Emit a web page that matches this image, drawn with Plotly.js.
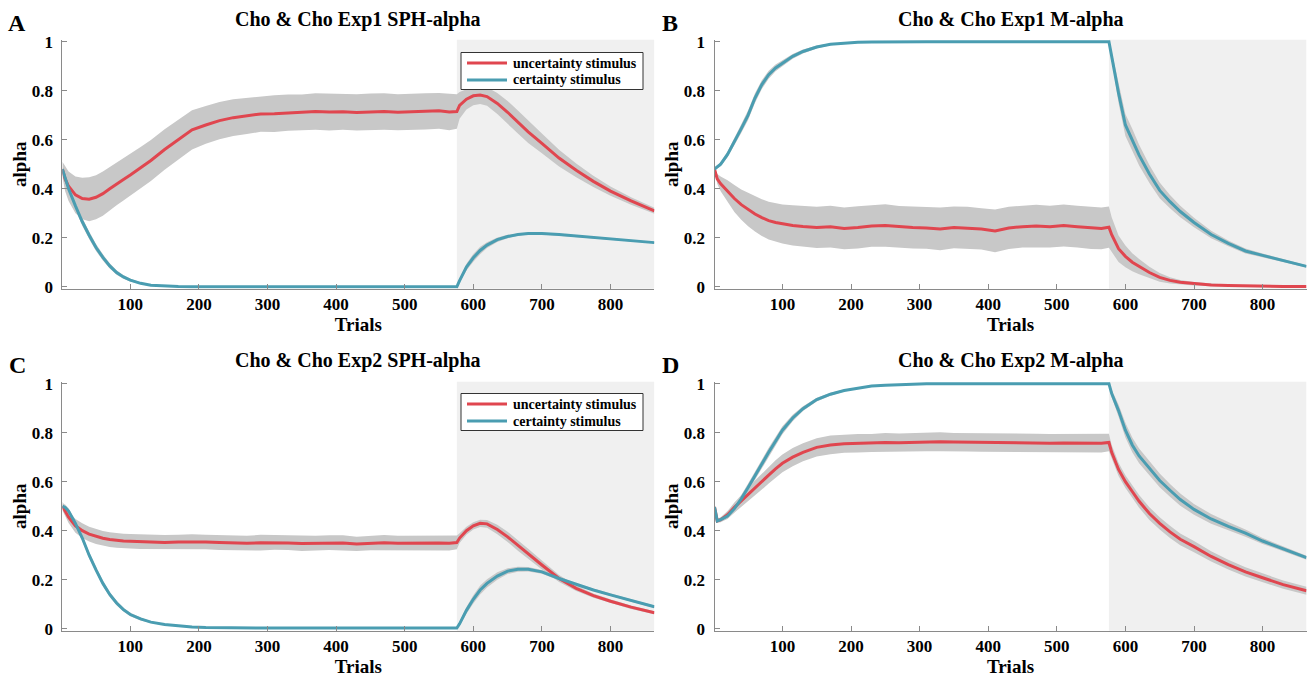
<!DOCTYPE html>
<html>
<head>
<meta charset="utf-8">
<script src="https://cdn.plot.ly/plotly-3.0.1.min.js"></script>
<style>html,body{margin:0;padding:0;background:#fff;}#chart{width:1314px;height:685px;}</style>
</head>
<body>
<div id="chart"></div>
<script>
// ---------------- DATA ----------------
const trials = [1,5,10,20,30,40,50,60,70,80,90,100,115,130,150,170,190,210,230,250,270,290,310,330,350,370,390,410,430,450,470,490,510,530,550,565,576,580,590,600,610,620,635,650,665,680,700,725,750,775,800,830,864];
const phaseStart = 576;
const lastTrial = 864;
const firstTrial = 1;
const xTickVals = [100,200,300,400,500,600,700,800];
const yTickVals = [0,0.2,0.4,0.6,0.8,1];
const seriesNames = ['uncertainty stimulus','certainty stimulus'];
const panelTitles = ['Cho & Cho Exp1 SPH-alpha','Cho & Cho Exp1 M-alpha','Cho & Cho Exp2 SPH-alpha','Cho & Cho Exp2 M-alpha'];
const panelLetters = ['A','B','C','D'];

// Panel A
const redA = [0.48,0.44,0.41,0.375,0.36,0.357,0.365,0.38,0.40,0.42,0.438,0.456,
  0.485,0.515,0.56,0.60,0.64,
  0.66,0.678,0.69,0.697,0.705,0.706,0.71,0.712,0.715,0.713,0.714,0.711,0.713,0.715,0.712,0.714,0.716,0.718,
  0.713,0.715,
  0.74,0.765,0.779,0.782,0.776,0.748,0.712,0.672,0.632,0.585,0.525,0.475,0.43,0.39,0.35,0.31];
const redAErr = [0.03,0.05,0.06,0.075,0.085,0.09,0.09,0.09,0.088,0.087,0.086,0.085,
  0.085,0.084,0.083,0.081,0.08,
  0.077,0.076,0.075,0.074,0.073,0.075,0.074,0.072,0.074,0.075,0.073,0.074,0.075,0.074,0.073,0.075,0.074,0.073,
  0.074,0.07,
  0.055,0.042,0.038,0.036,0.038,0.043,0.046,0.047,0.045,0.04,0.034,0.028,0.023,0.019,0.015,0.012];
const tealA = [0.48,0.44,0.40,0.33,0.265,0.21,0.16,0.12,0.085,0.058,0.04,0.027,
  0.014,0.006,0.002,0.001,0,
  0,0,0,0,0,0,0,0,0,0,0,0,0,0,0,0,0,0,
  0,0,
  0.025,0.08,0.118,0.148,0.17,0.192,0.205,0.213,0.217,0.217,0.213,0.207,0.201,0.195,0.188,0.18];
const tealAErr = [0.008,0.012,0.014,0.016,0.016,0.015,0.014,0.013,0.011,0.009,0.007,0.006,
  0.004,0.003,0.002,0.001,0.001,
  0,0,0,0,0,0,0,0,0,0,0,0,0,0,0,0,0,0,
  0,0,
  0.008,0.014,0.016,0.015,0.012,0.009,0.007,0.005,0.004,0.004,0.004,0.003,0.003,0.003,0.003,0.003];

// Panel B
const redB = [0.48,0.44,0.42,0.39,0.36,0.335,0.315,0.297,0.282,0.27,0.262,0.256,
  0.25,0.246,0.242,0.245,0.238,
  0.242,0.248,0.25,0.245,0.242,0.24,0.236,0.242,0.24,0.236,0.228,0.24,0.245,0.248,0.245,0.25,0.245,0.24,
  0.238,0.243,
  0.212,0.155,0.124,0.1,0.082,0.058,0.038,0.026,0.018,0.012,0.007,0.005,0.003,0.002,0.001,0.001];
const redBErr = [0.01,0.02,0.03,0.045,0.055,0.062,0.068,0.072,0.075,0.077,0.079,0.08,
  0.082,0.083,0.084,0.085,0.085,
  0.086,0.085,0.087,0.084,0.086,0.085,0.087,0.085,0.086,0.084,0.087,0.086,0.085,0.087,0.085,0.086,0.085,0.086,
  0.085,0.084,
  0.072,0.054,0.044,0.037,0.031,0.024,0.018,0.013,0.01,0.007,0.005,0.003,0.002,0.002,0.001,0.001];
const tealB = [0.48,0.49,0.50,0.54,0.59,0.645,0.70,0.77,0.825,0.865,0.893,0.913,
  0.94,0.96,0.978,0.989,0.995,
  0.998,0.999,1,1,1,1,1,1,1,1,1,1,1,1,1,1,1,1,
  1,1,
  0.94,0.79,0.66,0.60,0.537,0.46,0.393,0.347,0.307,0.262,0.213,0.177,0.146,0.128,0.107,0.083];
const tealBErr = [0.004,0.006,0.008,0.012,0.015,0.018,0.02,0.02,0.018,0.016,0.014,0.012,
  0.01,0.008,0.006,0.004,0.003,
  0.002,0.001,0,0,0,0,0,0,0,0,0,0,0,0,0,0,0,0,
  0,0,
  0.02,0.04,0.045,0.045,0.042,0.037,0.032,0.027,0.023,0.019,0.015,0.012,0.01,0.008,0.006,0.005];

// Panel C
const redC = [0.50,0.48,0.455,0.42,0.40,0.386,0.376,0.369,0.364,0.36,0.358,0.357,
  0.355,0.353,0.352,0.354,0.355,
  0.354,0.352,0.35,0.349,0.351,0.352,0.35,0.348,0.349,0.351,0.35,0.346,0.35,0.351,0.349,0.35,0.351,0.35,
  0.349,0.352,
  0.37,0.40,0.42,0.43,0.428,0.405,0.375,0.34,0.305,0.26,0.205,0.165,0.135,0.112,0.088,0.065];
const redCErr = [0.018,0.02,0.024,0.028,0.03,0.03,0.03,0.03,0.03,0.03,0.03,0.03,
  0.03,0.031,0.03,0.029,0.031,
  0.03,0.031,0.029,0.03,0.032,0.03,0.029,0.031,0.03,0.03,0.031,0.029,0.03,0.031,0.03,0.029,0.03,0.031,
  0.03,0.028,
  0.02,0.016,0.015,0.015,0.016,0.019,0.021,0.022,0.021,0.018,0.014,0.011,0.009,0.008,0.007,0.006];
const tealC = [0.50,0.495,0.48,0.43,0.37,0.30,0.24,0.185,0.14,0.105,0.078,0.058,
  0.04,0.027,0.017,0.011,0.007,
  0.005,0.004,0.003,0.003,0.003,0.003,0.003,0.003,0.003,0.003,0.003,0.003,0.003,0.003,0.003,0.003,0.003,0.003,
  0.003,0.003,
  0.02,0.075,0.12,0.158,0.185,0.215,0.235,0.243,0.243,0.232,0.205,0.18,0.158,0.138,0.115,0.09];
const tealCErr = [0.01,0.012,0.012,0.012,0.012,0.012,0.012,0.011,0.01,0.009,0.008,0.007,
  0.006,0.004,0.003,0.002,0.002,
  0.001,0.001,0.001,0.001,0.001,0.001,0.001,0.001,0.001,0.001,0.001,0.001,0.001,0.001,0.001,0.001,0.001,0.001,
  0.001,0.001,
  0.008,0.014,0.017,0.018,0.017,0.015,0.012,0.01,0.009,0.008,0.007,0.006,0.006,0.005,0.005,0.005];

// Panel D
const redD = [0.497,0.44,0.445,0.465,0.495,0.522,0.548,0.575,0.60,0.627,0.652,0.675,
  0.70,0.72,0.74,0.75,0.755,
  0.757,0.758,0.76,0.759,0.761,0.762,0.763,0.762,0.761,0.76,0.759,0.76,0.758,0.759,0.757,0.758,0.757,0.756,
  0.757,0.76,
  0.72,0.65,0.60,0.56,0.52,0.47,0.43,0.395,0.365,0.335,0.295,0.262,0.232,0.208,0.18,0.155];
const redDErr = [0.008,0.008,0.01,0.015,0.02,0.024,0.027,0.03,0.032,0.034,0.035,0.036,
  0.037,0.037,0.037,0.038,0.037,
  0.038,0.037,0.039,0.038,0.037,0.038,0.039,0.037,0.038,0.038,0.037,0.039,0.038,0.037,0.038,0.037,0.038,0.037,
  0.038,0.036,
  0.03,0.027,0.026,0.026,0.026,0.026,0.025,0.025,0.024,0.023,0.021,0.02,0.019,0.018,0.017,0.016];
const tealD = [0.497,0.44,0.445,0.46,0.49,0.53,0.576,0.625,0.672,0.72,0.765,0.81,
  0.86,0.898,0.935,0.957,0.972,
  0.982,0.99,0.994,0.997,0.998,1,1,1,1,1,1,1,1,1,1,1,1,1,
  1,1,
  0.96,0.89,0.81,0.75,0.705,0.655,0.605,0.565,0.527,0.487,0.448,0.418,0.39,0.358,0.325,0.29];
const tealDErr = [0.005,0.005,0.008,0.012,0.015,0.016,0.017,0.018,0.018,0.018,0.017,0.016,
  0.013,0.01,0.008,0.006,0.004,
  0.003,0.002,0.001,0,0,0,0,0,0,0,0,0,0,0,0,0,0,0,
  0,0,
  0.015,0.025,0.03,0.03,0.03,0.029,0.028,0.026,0.025,0.022,0.02,0.018,0.015,0.012,0.01,0.008];

// ---------------- STYLE ----------------
const RED = '#E0464F';
const TEAL = '#4A9DB1';
const BAND = '#C8C8C8';
const PHASE = '#F0F0F0';
const AXIS = '#8A8A8A';
const FONT = 'Liberation Serif, Times New Roman, serif';
const W = 1314, H = 685;
const seriesColors = [RED, TEAL];

const panels = [
  {red: redA, redErr: redAErr, teal: tealA, tealErr: tealAErr, xa: 'x',  ya: 'y',  legendTop: 52.5},
  {red: redB, redErr: redBErr, teal: tealB, tealErr: tealBErr, xa: 'x2', ya: 'y2', legendTop: null},
  {red: redC, redErr: redCErr, teal: tealC, tealErr: tealCErr, xa: 'x3', ya: 'y3', legendTop: 393.5},
  {red: redD, redErr: redDErr, teal: tealD, tealErr: tealDErr, xa: 'x4', ya: 'y4', legendTop: null}
];

function band(mean, err) {
  const hi = mean.map((v, i) => v + err[i]);
  const lo = mean.map((v, i) => v - err[i]);
  return {x: trials.concat(trials.slice().reverse()), y: hi.concat(lo.slice().reverse())};
}

const traces = [];
panels.forEach(p => {
  [[p.red, p.redErr], [p.teal, p.tealErr]].forEach(([m, e]) => {
    const b = band(m, e);
    traces.push({type: 'scatter', mode: 'lines', x: b.x, y: b.y, xaxis: p.xa, yaxis: p.ya,
      fill: 'toself', fillcolor: BAND, line: {width: 0, color: BAND}, hoverinfo: 'skip', showlegend: false});
  });
  [[p.red, RED, seriesNames[0]], [p.teal, TEAL, seriesNames[1]]].forEach(([m, c, n]) => {
    traces.push({type: 'scatter', mode: 'lines', x: trials, y: m, xaxis: p.xa, yaxis: p.ya,
      name: n, line: {color: c, width: 3}, showlegend: false});
  });
});

// ---------------- LAYOUT ----------------
const colsPx = [[62.4, 654.4], [714.5, 1306.5]];
const rowsPx = [[39.7, 288.7], [381.7, 630.7]];
const xd = c => [colsPx[c][0] / W, colsPx[c][1] / W];
const yd = r => [1 - rowsPx[r][1] / H, 1 - rowsPx[r][0] / H];

const tickFont = {family: FONT, size: 17, color: '#000', weight: 'bold'};
const titleFont = {family: FONT, size: 19, color: '#000', weight: 'bold'};

function xAxis(c, anchor) {
  return {domain: xd(c), anchor: anchor, range: [firstTrial, lastTrial], tickvals: xTickVals,
    showline: true, linecolor: AXIS, linewidth: 1, ticks: 'inside', ticklen: 5, tickcolor: AXIS,
    showgrid: false, zeroline: false, automargin: false, tickfont: tickFont, ticklabelstandoff: 0,
    title: {text: 'Trials', font: titleFont, standoff: 4}};
}
function yAxis(r, anchor) {
  return {domain: yd(r), anchor: anchor, range: [-0.008, 1.008], tickvals: yTickVals,
    showline: true, linecolor: AXIS, linewidth: 1, ticks: 'inside', ticklen: 5, tickcolor: AXIS,
    showgrid: false, zeroline: false, automargin: false, tickfont: tickFont, ticklabelstandoff: 5,
    title: {text: 'alpha', font: titleFont, standoff: 0}};
}

const shapes = [['x','y'],['x2','y2'],['x3','y3'],['x4','y4']].map(([xa, ya]) => ({
  type: 'rect', xref: xa, yref: ya + ' domain', x0: phaseStart, x1: lastTrial, y0: 0, y1: 1,
  fillcolor: PHASE, line: {width: 0}, layer: 'below'}));

const annotations = [];
const titleY = [19, 361];
const letterY = [23, 365];
const letterX = [17, 670];
for (let i = 0; i < 4; i++) {
  const c = i % 2, r = Math.floor(i / 2);
  annotations.push({xref: 'paper', yref: 'paper', x: (colsPx[c][0] + colsPx[c][1]) / 2 / W, y: 1 - titleY[r] / H,
    xanchor: 'center', yanchor: 'middle', showarrow: false, text: panelTitles[i],
    font: {family: FONT, size: 20, color: '#000', weight: 'bold'}});
  annotations.push({xref: 'paper', yref: 'paper', x: letterX[c] / W, y: 1 - letterY[r] / H,
    xanchor: 'center', yanchor: 'middle', showarrow: false, text: panelLetters[i],
    font: {family: FONT, size: 24, color: '#000', weight: 'bold'}});
}

// Legend boxes (MATLAB-style compact legend) for panels A and C
const legLeft = 461, legRight = 643, legHeight = 37, rowOffsets = [10.5, 27.5];
const sampleX = [467, 507], textX = 511;
panels.forEach(p => {
  if (p.legendTop === null) return;
  const top = p.legendTop;
  shapes.push({type: 'rect', xref: 'paper', yref: 'paper', x0: legLeft / W, x1: legRight / W,
    y0: 1 - (top + legHeight) / H, y1: 1 - top / H, fillcolor: '#fff', line: {color: '#333', width: 1}, layer: 'above'});
  seriesNames.forEach((n, k) => {
    const yy = 1 - (top + rowOffsets[k]) / H;
    shapes.push({type: 'line', xref: 'paper', yref: 'paper', x0: sampleX[0] / W, x1: sampleX[1] / W,
      y0: yy, y1: yy, line: {color: seriesColors[k], width: 3}, layer: 'above'});
    annotations.push({xref: 'paper', yref: 'paper', x: textX / W, y: yy, xanchor: 'left', yanchor: 'middle',
      showarrow: false, text: n, font: {family: FONT, size: 14, color: '#000', weight: 'bold'}});
  });
});

const layout = {
  width: W, height: H, margin: {l: 0, r: 0, t: 0, b: 0},
  paper_bgcolor: '#fff', plot_bgcolor: 'rgba(0,0,0,0)',
  font: {family: FONT},
  showlegend: false,
  xaxis: xAxis(0, 'y'), yaxis: yAxis(0, 'x'),
  xaxis2: xAxis(1, 'y2'), yaxis2: yAxis(0, 'x2'),
  xaxis3: xAxis(0, 'y3'), yaxis3: yAxis(1, 'x3'),
  xaxis4: xAxis(1, 'y4'), yaxis4: yAxis(1, 'x4'),
  shapes: shapes,
  annotations: annotations
};

Plotly.newPlot('chart', traces, layout, {staticPlot: true, displayModeBar: false});
</script>
</body>
</html>
